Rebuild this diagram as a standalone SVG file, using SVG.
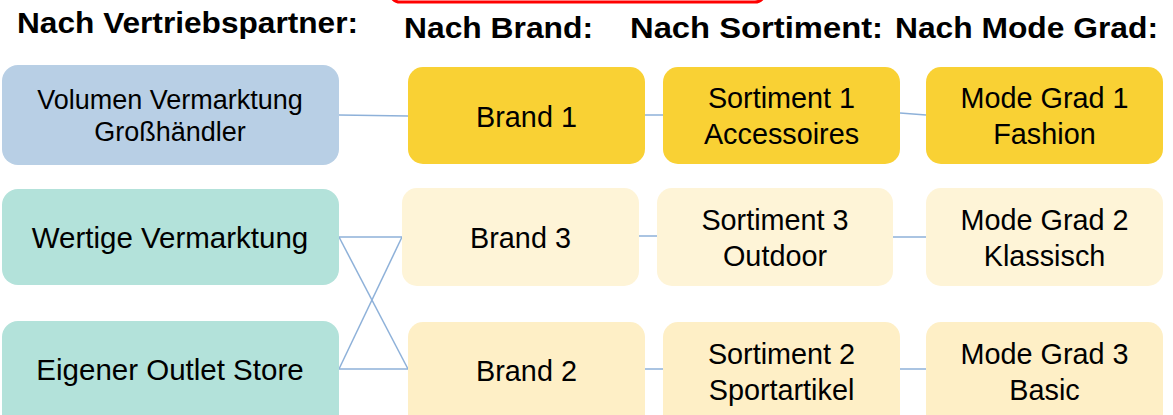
<svg xmlns="http://www.w3.org/2000/svg" width="1173" height="415" viewBox="0 0 1173 415">
  <style>
    .hdr { font-family: "Liberation Sans", Arial, sans-serif; font-weight: bold; font-size: 29px; fill: #000; }
    .lbl { font-family: "Liberation Sans", Arial, sans-serif; font-size: 28.8px; fill: #000; text-anchor: middle; }
    .lbl-l { font-size: 29.5px; }
    .lbl-s { font-size: 27px; }
    .blue { fill: #b8cfe5; }
    .teal { fill: #b3e2da; }
    .gold { fill: #f9d134; }
    .pale { fill: #fef4d7; }
    .cream { fill: #feefc6; }
    .conn { stroke: #8eb1d9; stroke-width: 1.5; fill: none; }
  </style>

  <!-- red frame, mostly above the top edge -->
  <rect x="390" y="-40" width="375" height="42" rx="10" fill="none" stroke="#ff0000" stroke-width="3"/>

  <!-- column headings -->
  <text class="hdr" x="17" y="33" textLength="341" lengthAdjust="spacingAndGlyphs">Nach Vertriebspartner:</text>
  <text class="hdr" x="404" y="38" textLength="189" lengthAdjust="spacingAndGlyphs">Nach Brand:</text>
  <text class="hdr" x="630" y="38" textLength="253" lengthAdjust="spacingAndGlyphs">Nach Sortiment:</text>
  <text class="hdr" x="895" y="38" textLength="263" lengthAdjust="spacingAndGlyphs">Nach Mode Grad:</text>

  <!-- connectors -->
  <g id="connectors" class="conn">
    <line x1="339" y1="115" x2="408" y2="116"/>
    <line x1="645" y1="115" x2="663" y2="115"/>
    <line x1="900" y1="113" x2="926" y2="115"/>
    <line x1="339" y1="237" x2="402" y2="237"/>
    <line x1="339" y1="237" x2="408" y2="369"/>
    <line x1="339" y1="369" x2="402" y2="237"/>
    <line x1="339" y1="369" x2="408" y2="369"/>
    <line x1="639" y1="236" x2="657" y2="236"/>
    <line x1="893" y1="237" x2="926" y2="237"/>
    <line x1="645" y1="369" x2="663" y2="369"/>
    <line x1="900" y1="369" x2="926" y2="369"/>
  </g>

  <!-- sales channels -->
  <g id="volumen">
    <rect class="blue" x="2" y="65" width="337" height="100" rx="16"/>
    <text class="lbl lbl-s" x="170" y="109">Volumen Vermarktung</text>
    <text class="lbl lbl-s" x="170" y="141">Großhändler</text>
  </g>
  <g id="wertig">
    <rect class="teal" x="2" y="189" width="337" height="96" rx="16"/>
    <text class="lbl lbl-l" x="170" y="248">Wertige Vermarktung</text>
  </g>
  <g id="outlet">
    <rect class="teal" x="2" y="321" width="337" height="110" rx="16"/>
    <text class="lbl lbl-l" x="170" y="380">Eigener Outlet Store</text>
  </g>

  <!-- brands -->
  <g id="brand1">
    <rect class="gold" x="408" y="67" width="237" height="97" rx="15"/>
    <text class="lbl" x="526.5" y="127">Brand 1</text>
  </g>
  <g id="brand3">
    <rect class="pale" x="402" y="188" width="237" height="98" rx="15"/>
    <text class="lbl" x="520.5" y="248">Brand 3</text>
  </g>
  <g id="brand2">
    <rect class="cream" x="408" y="322" width="237" height="110" rx="15"/>
    <text class="lbl" x="526.5" y="381">Brand 2</text>
  </g>

  <!-- assortments -->
  <g id="sortiment1">
    <rect class="gold" x="663" y="67" width="237" height="97" rx="15"/>
    <text class="lbl" x="781.5" y="108">Sortiment 1</text>
    <text class="lbl" x="781.5" y="144">Accessoires</text>
  </g>
  <g id="sortiment3">
    <rect class="pale" x="657" y="188" width="236" height="98" rx="15"/>
    <text class="lbl" x="775" y="230">Sortiment 3</text>
    <text class="lbl" x="775" y="266">Outdoor</text>
  </g>
  <g id="sortiment2">
    <rect class="cream" x="663" y="322" width="237" height="110" rx="15"/>
    <text class="lbl" x="781.5" y="364">Sortiment 2</text>
    <text class="lbl" x="781.5" y="400">Sportartikel</text>
  </g>

  <!-- fashion grades -->
  <g id="mode1">
    <rect class="gold" x="926" y="67" width="237" height="97" rx="15"/>
    <text class="lbl" x="1044.5" y="108">Mode Grad 1</text>
    <text class="lbl" x="1044.5" y="144">Fashion</text>
  </g>
  <g id="mode2">
    <rect class="pale" x="926" y="188" width="237" height="98" rx="15"/>
    <text class="lbl" x="1044.5" y="230">Mode Grad 2</text>
    <text class="lbl" x="1044.5" y="266">Klassisch</text>
  </g>
  <g id="mode3">
    <rect class="cream" x="926" y="322" width="237" height="110" rx="15"/>
    <text class="lbl" x="1044.5" y="364">Mode Grad 3</text>
    <text class="lbl" x="1044.5" y="400">Basic</text>
  </g>
</svg>
